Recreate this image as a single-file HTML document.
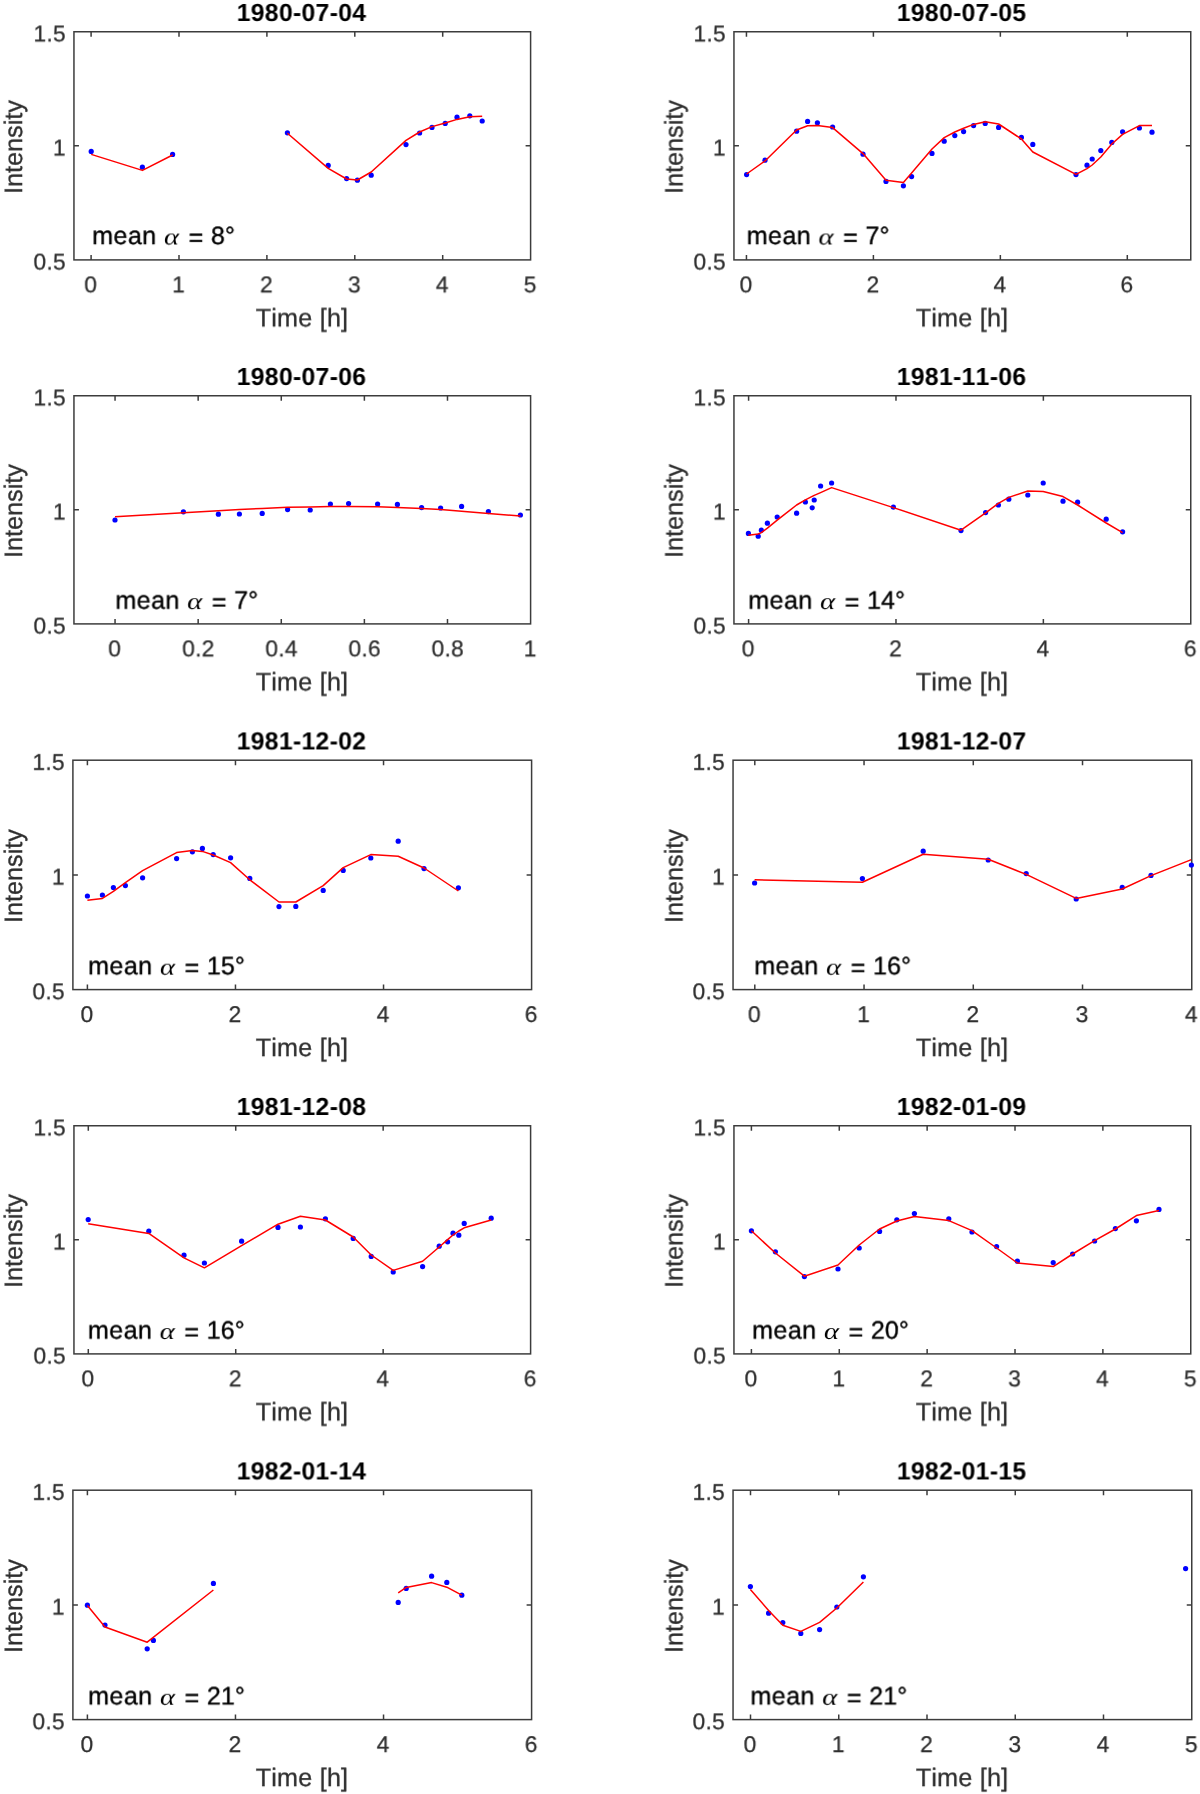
<!DOCTYPE html>
<html lang="en">
<head>
<meta charset="utf-8">
<title>Lightcurves</title>
<style>
html,body{margin:0;padding:0;background:#fff}
body{width:1200px;height:1794px;overflow:hidden}
svg{display:block;font-family:'Liberation Sans', 'DejaVu Sans', sans-serif;font-kerning:none}
text{white-space:pre}
svg text{will-change:opacity;text-rendering:geometricPrecision}
</style>
</head>
<body>
<svg width="1200" height="1794" viewBox="0 0 1200 1794">
<rect width="1200" height="1794" fill="#fff"/>
<g id="p1">
<clipPath id="c1"><rect x="74.45" y="32.25" width="455.65" height="227.15"/></clipPath>
<g stroke="#3c3c3c" stroke-width="1.5" fill="none">
<rect x="73.95" y="31.75" width="456.65" height="228.15"/>
<path d="M91.1 259.9v-5M91.1 31.75v5M179 259.9v-5M179 31.75v5M266.9 259.9v-5M266.9 31.75v5M354.8 259.9v-5M354.8 31.75v5M442.7 259.9v-5M442.7 31.75v5M73.95 145.82h5M530.6 145.82h-5"/>
</g>
<g fill="#00f">
<circle cx="91.2" cy="151.4" r="2.6"/>
<circle cx="142.4" cy="167.2" r="2.6"/>
<circle cx="172.6" cy="154.4" r="2.6"/>
<circle cx="287.4" cy="132.8" r="2.6"/>
<circle cx="328.2" cy="165.4" r="2.6"/>
<circle cx="346.6" cy="178.6" r="2.6"/>
<circle cx="357.4" cy="180.2" r="2.6"/>
<circle cx="371.2" cy="175.2" r="2.6"/>
<circle cx="406" cy="144.6" r="2.6"/>
<circle cx="419.6" cy="133" r="2.6"/>
<circle cx="432" cy="127.4" r="2.6"/>
<circle cx="445.2" cy="123.4" r="2.6"/>
<circle cx="457" cy="117.2" r="2.6"/>
<circle cx="469.8" cy="115.8" r="2.6"/>
<circle cx="482.2" cy="121" r="2.6"/>
</g>
<polyline clip-path="url(#c1)" points="91.2,154.4 142.4,170.4 172.6,155" fill="none" stroke="#f00" stroke-width="1.5" stroke-linejoin="round"/>
<polyline clip-path="url(#c1)" points="287.4,133.2 328.2,168.4 346.6,179 357.4,180 371.2,172 406,140.4 419.6,132 432,126.6 445.2,123 457,119.4 469.8,116.8 482.2,116.2" fill="none" stroke="#f00" stroke-width="1.5" stroke-linejoin="round"/>
<g font-size="22.8" fill="#2e2e2e" stroke="#2e2e2e" stroke-width="0.25" letter-spacing="0.25">
<text transform="translate(90.75 292.35) rotate(0.01)" text-anchor="middle">0</text>
<text transform="translate(178.65 292.35) rotate(0.01)" text-anchor="middle">1</text>
<text transform="translate(266.55 292.35) rotate(0.01)" text-anchor="middle">2</text>
<text transform="translate(354.45 292.35) rotate(0.01)" text-anchor="middle">3</text>
<text transform="translate(442.35 292.35) rotate(0.01)" text-anchor="middle">4</text>
<text transform="translate(530.25 292.35) rotate(0.01)" text-anchor="middle">5</text>
<text transform="translate(65.95 41.4) rotate(0.01)" text-anchor="end">1.5</text>
<text transform="translate(65.95 155.47) rotate(0.01)" text-anchor="end">1</text>
<text transform="translate(65.95 269.55) rotate(0.01)" text-anchor="end">0.5</text>
</g>
<g font-size="25.2" fill="#2e2e2e" stroke="#2e2e2e" stroke-width="0.3" text-anchor="middle">
<text transform="translate(301.98 326.4) rotate(0.01)" letter-spacing="0.2">Time [h]</text>
<text transform="translate(22.05 146.92) rotate(-89.99)" font-size="25.2">Intensity</text>
</g>
<text transform="translate(301.48 21) rotate(0.01)" font-size="24.8" font-weight="bold" text-anchor="middle" letter-spacing="0.27" fill="#000">1980-07-04</text>
<text transform="translate(92.2 244.1) rotate(0.01)" font-size="25.1" fill="#000" stroke="#000" stroke-width="0.35"><tspan x="0" letter-spacing="0.4">mean</tspan><tspan x="96.4" dy="1.9">=</tspan><tspan x="118.8" dy="-1.9">8°</tspan></text>
<text transform="translate(164 244.5) rotate(0.01) scale(1.22 1)" font-family="'Liberation Serif', 'DejaVu Serif', serif" font-style="italic" font-size="23.5" fill="#000">α</text>
</g>
<g id="p2">
<clipPath id="c2"><rect x="734.45" y="32.25" width="455.8" height="227.15"/></clipPath>
<g stroke="#3c3c3c" stroke-width="1.5" fill="none">
<rect x="733.95" y="31.75" width="456.8" height="228.15"/>
<path d="M746.45 259.9v-5M746.45 31.75v5M873.4 259.9v-5M873.4 31.75v5M1000.35 259.9v-5M1000.35 31.75v5M1127.3 259.9v-5M1127.3 31.75v5M733.95 145.82h5M1190.75 145.82h-5"/>
</g>
<g fill="#00f">
<circle cx="746.6" cy="174.6" r="2.6"/>
<circle cx="765" cy="160.2" r="2.6"/>
<circle cx="796.6" cy="131.2" r="2.6"/>
<circle cx="807.6" cy="121.4" r="2.6"/>
<circle cx="817.4" cy="122.8" r="2.6"/>
<circle cx="832.6" cy="127" r="2.6"/>
<circle cx="863" cy="154.2" r="2.6"/>
<circle cx="886" cy="181.4" r="2.6"/>
<circle cx="903.4" cy="185.8" r="2.6"/>
<circle cx="911.6" cy="176.6" r="2.6"/>
<circle cx="932" cy="153.4" r="2.6"/>
<circle cx="944.2" cy="141.2" r="2.6"/>
<circle cx="954.8" cy="135.6" r="2.6"/>
<circle cx="963.6" cy="131.6" r="2.6"/>
<circle cx="973.6" cy="125.6" r="2.6"/>
<circle cx="985.2" cy="123.4" r="2.6"/>
<circle cx="998.6" cy="127.4" r="2.6"/>
<circle cx="1021.4" cy="137.4" r="2.6"/>
<circle cx="1032.8" cy="144.4" r="2.6"/>
<circle cx="1076" cy="174.6" r="2.6"/>
<circle cx="1087" cy="165.2" r="2.6"/>
<circle cx="1092.2" cy="159" r="2.6"/>
<circle cx="1100.8" cy="150.6" r="2.6"/>
<circle cx="1111.8" cy="142.4" r="2.6"/>
<circle cx="1122.6" cy="131.8" r="2.6"/>
<circle cx="1139.4" cy="128" r="2.6"/>
<circle cx="1152" cy="132.2" r="2.6"/>
</g>
<polyline clip-path="url(#c2)" points="746.6,174 765,161 796.6,130 807.6,125.8 817.4,125.4 832.6,127.6 863,153.6 886,180.2 903.4,182.6 911.6,173 932,149 944.2,137.6 954.8,132 963.6,128.2 973.6,124.4 985.2,121.8 998.6,124 1021.4,139 1032.8,152 1076,174.4 1087,168.6 1092.2,165 1100.8,157 1111.8,144 1122.6,134.4 1139.4,125.6 1152,125.6" fill="none" stroke="#f00" stroke-width="1.5" stroke-linejoin="round"/>
<g font-size="22.8" fill="#2e2e2e" stroke="#2e2e2e" stroke-width="0.25" letter-spacing="0.25">
<text transform="translate(746.1 292.35) rotate(0.01)" text-anchor="middle">0</text>
<text transform="translate(873.05 292.35) rotate(0.01)" text-anchor="middle">2</text>
<text transform="translate(1000 292.35) rotate(0.01)" text-anchor="middle">4</text>
<text transform="translate(1126.95 292.35) rotate(0.01)" text-anchor="middle">6</text>
<text transform="translate(725.95 41.4) rotate(0.01)" text-anchor="end">1.5</text>
<text transform="translate(725.95 155.47) rotate(0.01)" text-anchor="end">1</text>
<text transform="translate(725.95 269.55) rotate(0.01)" text-anchor="end">0.5</text>
</g>
<g font-size="25.2" fill="#2e2e2e" stroke="#2e2e2e" stroke-width="0.3" text-anchor="middle">
<text transform="translate(962.05 326.4) rotate(0.01)" letter-spacing="0.2">Time [h]</text>
<text transform="translate(682.55 146.92) rotate(-89.99)" font-size="25.2">Intensity</text>
</g>
<text transform="translate(961.55 21) rotate(0.01)" font-size="24.8" font-weight="bold" text-anchor="middle" letter-spacing="0.27" fill="#000">1980-07-05</text>
<text transform="translate(746.7 244.1) rotate(0.01)" font-size="25.1" fill="#000" stroke="#000" stroke-width="0.35"><tspan x="0" letter-spacing="0.4">mean</tspan><tspan x="96.4" dy="1.9">=</tspan><tspan x="118.8" dy="-1.9">7°</tspan></text>
<text transform="translate(818.5 244.5) rotate(0.01) scale(1.22 1)" font-family="'Liberation Serif', 'DejaVu Serif', serif" font-style="italic" font-size="23.5" fill="#000">α</text>
</g>
<g id="p3">
<clipPath id="c3"><rect x="74.45" y="396.25" width="455.65" height="227.15"/></clipPath>
<g stroke="#3c3c3c" stroke-width="1.5" fill="none">
<rect x="73.95" y="395.75" width="456.65" height="228.15"/>
<path d="M115.05 623.9v-5M115.05 395.75v5M198.16 623.9v-5M198.16 395.75v5M281.27 623.9v-5M281.27 395.75v5M364.38 623.9v-5M364.38 395.75v5M447.49 623.9v-5M447.49 395.75v5M73.95 509.82h5M530.6 509.82h-5"/>
</g>
<g fill="#00f">
<circle cx="115" cy="520" r="2.6"/>
<circle cx="183.4" cy="511.8" r="2.6"/>
<circle cx="218.4" cy="514.2" r="2.6"/>
<circle cx="239.4" cy="514" r="2.6"/>
<circle cx="262.2" cy="513.4" r="2.6"/>
<circle cx="287.6" cy="509.6" r="2.6"/>
<circle cx="310.2" cy="510" r="2.6"/>
<circle cx="330.4" cy="504" r="2.6"/>
<circle cx="348.6" cy="503.6" r="2.6"/>
<circle cx="377.6" cy="504" r="2.6"/>
<circle cx="397.4" cy="504.4" r="2.6"/>
<circle cx="421.6" cy="507.6" r="2.6"/>
<circle cx="440.6" cy="508" r="2.6"/>
<circle cx="461.6" cy="506.4" r="2.6"/>
<circle cx="488.4" cy="511.6" r="2.6"/>
<circle cx="520.4" cy="515" r="2.6"/>
</g>
<polyline clip-path="url(#c3)" points="115,516.8 183.4,512.8 218.4,510.8 239.4,509.6 262.2,508.4 287.6,507.2 310.2,507 330.4,506.4 348.6,506.4 377.6,506.8 397.4,507.4 421.6,508.6 440.6,509.6 461.6,511.2 488.4,513.6 520.4,516" fill="none" stroke="#f00" stroke-width="1.5" stroke-linejoin="round"/>
<g font-size="22.8" fill="#2e2e2e" stroke="#2e2e2e" stroke-width="0.25" letter-spacing="0.25">
<text transform="translate(114.7 656.35) rotate(0.01)" text-anchor="middle">0</text>
<text transform="translate(198.46 656.35) rotate(0.01)" text-anchor="middle">0.2</text>
<text transform="translate(281.57 656.35) rotate(0.01)" text-anchor="middle">0.4</text>
<text transform="translate(364.68 656.35) rotate(0.01)" text-anchor="middle">0.6</text>
<text transform="translate(447.79 656.35) rotate(0.01)" text-anchor="middle">0.8</text>
<text transform="translate(530.25 656.35) rotate(0.01)" text-anchor="middle">1</text>
<text transform="translate(65.95 405.4) rotate(0.01)" text-anchor="end">1.5</text>
<text transform="translate(65.95 519.48) rotate(0.01)" text-anchor="end">1</text>
<text transform="translate(65.95 633.55) rotate(0.01)" text-anchor="end">0.5</text>
</g>
<g font-size="25.2" fill="#2e2e2e" stroke="#2e2e2e" stroke-width="0.3" text-anchor="middle">
<text transform="translate(301.98 690.4) rotate(0.01)" letter-spacing="0.2">Time [h]</text>
<text transform="translate(22.05 510.93) rotate(-89.99)" font-size="25.2">Intensity</text>
</g>
<text transform="translate(301.48 385) rotate(0.01)" font-size="24.8" font-weight="bold" text-anchor="middle" letter-spacing="0.27" fill="#000">1980-07-06</text>
<text transform="translate(115.4 608.7) rotate(0.01)" font-size="25.1" fill="#000" stroke="#000" stroke-width="0.35"><tspan x="0" letter-spacing="0.4">mean</tspan><tspan x="96.4" dy="1.9">=</tspan><tspan x="118.8" dy="-1.9">7°</tspan></text>
<text transform="translate(187.2 609.1) rotate(0.01) scale(1.22 1)" font-family="'Liberation Serif', 'DejaVu Serif', serif" font-style="italic" font-size="23.5" fill="#000">α</text>
</g>
<g id="p4">
<clipPath id="c4"><rect x="734.45" y="396.25" width="455.8" height="227.15"/></clipPath>
<g stroke="#3c3c3c" stroke-width="1.5" fill="none">
<rect x="733.95" y="395.75" width="456.8" height="228.15"/>
<path d="M748.6 623.9v-5M748.6 395.75v5M895.98 623.9v-5M895.98 395.75v5M1043.36 623.9v-5M1043.36 395.75v5M733.95 509.82h5M1190.75 509.82h-5"/>
</g>
<g fill="#00f">
<circle cx="748.4" cy="533.4" r="2.6"/>
<circle cx="758.2" cy="536.2" r="2.6"/>
<circle cx="761.4" cy="530.2" r="2.6"/>
<circle cx="767.4" cy="523.2" r="2.6"/>
<circle cx="777.2" cy="517" r="2.6"/>
<circle cx="796.6" cy="513.2" r="2.6"/>
<circle cx="805.4" cy="502" r="2.6"/>
<circle cx="812.2" cy="507.8" r="2.6"/>
<circle cx="814.2" cy="500" r="2.6"/>
<circle cx="820.6" cy="486" r="2.6"/>
<circle cx="831.6" cy="483" r="2.6"/>
<circle cx="893.4" cy="507.2" r="2.6"/>
<circle cx="961" cy="530.6" r="2.6"/>
<circle cx="985.6" cy="512.6" r="2.6"/>
<circle cx="998.4" cy="505" r="2.6"/>
<circle cx="1008.8" cy="499.2" r="2.6"/>
<circle cx="1027.8" cy="495" r="2.6"/>
<circle cx="1043.2" cy="483" r="2.6"/>
<circle cx="1063" cy="501.2" r="2.6"/>
<circle cx="1077.6" cy="502.2" r="2.6"/>
<circle cx="1106.2" cy="519.2" r="2.6"/>
<circle cx="1122.6" cy="531.8" r="2.6"/>
</g>
<polyline clip-path="url(#c4)" points="748.4,535.2 758.2,534 761.4,532.6 767.4,528.2 777.2,520.2 796.6,505 805.4,499.8 812.2,496.4 814.2,495.4 820.6,492.6 831.6,487.6 893.4,507.6 961,530.2 985.6,512.8 998.4,503.4 1008.8,497.4 1027.8,491 1043.2,491.4 1063,496.6 1077.6,505 1106.2,523 1122.6,532.6" fill="none" stroke="#f00" stroke-width="1.5" stroke-linejoin="round"/>
<g font-size="22.8" fill="#2e2e2e" stroke="#2e2e2e" stroke-width="0.25" letter-spacing="0.25">
<text transform="translate(748.25 656.35) rotate(0.01)" text-anchor="middle">0</text>
<text transform="translate(895.63 656.35) rotate(0.01)" text-anchor="middle">2</text>
<text transform="translate(1043.01 656.35) rotate(0.01)" text-anchor="middle">4</text>
<text transform="translate(1190.39 656.35) rotate(0.01)" text-anchor="middle">6</text>
<text transform="translate(725.95 405.4) rotate(0.01)" text-anchor="end">1.5</text>
<text transform="translate(725.95 519.48) rotate(0.01)" text-anchor="end">1</text>
<text transform="translate(725.95 633.55) rotate(0.01)" text-anchor="end">0.5</text>
</g>
<g font-size="25.2" fill="#2e2e2e" stroke="#2e2e2e" stroke-width="0.3" text-anchor="middle">
<text transform="translate(962.05 690.4) rotate(0.01)" letter-spacing="0.2">Time [h]</text>
<text transform="translate(682.55 510.93) rotate(-89.99)" font-size="25.2">Intensity</text>
</g>
<text transform="translate(961.55 385) rotate(0.01)" font-size="24.8" font-weight="bold" text-anchor="middle" letter-spacing="0.27" fill="#000">1981-11-06</text>
<text transform="translate(748.3 608.7) rotate(0.01)" font-size="25.1" fill="#000" stroke="#000" stroke-width="0.35"><tspan x="0" letter-spacing="0.4">mean</tspan><tspan x="96.4" dy="1.9">=</tspan><tspan x="118.8" dy="-1.9">14°</tspan></text>
<text transform="translate(820.1 609.1) rotate(0.01) scale(1.22 1)" font-family="'Liberation Serif', 'DejaVu Serif', serif" font-style="italic" font-size="23.5" fill="#000">α</text>
</g>
<g id="p5">
<clipPath id="c5"><rect x="73.4" y="760.7" width="457.7" height="228.4"/></clipPath>
<g stroke="#3c3c3c" stroke-width="1.5" fill="none">
<rect x="72.9" y="760.2" width="458.7" height="229.4"/>
<path d="M87.4 989.6v-5M87.4 760.2v5M235.47 989.6v-5M235.47 760.2v5M383.54 989.6v-5M383.54 760.2v5M72.9 874.9h5M531.6 874.9h-5"/>
</g>
<g fill="#00f">
<circle cx="87.4" cy="896" r="2.6"/>
<circle cx="102.4" cy="895" r="2.6"/>
<circle cx="113.4" cy="887.6" r="2.6"/>
<circle cx="125.4" cy="885.6" r="2.6"/>
<circle cx="142.6" cy="877.8" r="2.6"/>
<circle cx="176.6" cy="858.6" r="2.6"/>
<circle cx="192.4" cy="851.8" r="2.6"/>
<circle cx="202.4" cy="848.4" r="2.6"/>
<circle cx="213.2" cy="854.6" r="2.6"/>
<circle cx="230.6" cy="857.8" r="2.6"/>
<circle cx="249.8" cy="878.4" r="2.6"/>
<circle cx="279" cy="906.6" r="2.6"/>
<circle cx="295.8" cy="906.4" r="2.6"/>
<circle cx="323.2" cy="890.4" r="2.6"/>
<circle cx="343.2" cy="870.4" r="2.6"/>
<circle cx="370.8" cy="858" r="2.6"/>
<circle cx="398.2" cy="841.2" r="2.6"/>
<circle cx="424" cy="868.6" r="2.6"/>
<circle cx="458.4" cy="887.8" r="2.6"/>
</g>
<polyline clip-path="url(#c5)" points="87.4,900.2 102.4,898.4 113.4,891.4 125.4,882.6 142.6,870.6 176.6,852.6 192.4,850.4 202.4,851.4 213.2,855 230.6,862.6 249.8,879.8 279,902 295.8,902 323.2,885.6 343.2,867.6 370.8,854.6 398.2,856.2 424,868 458.4,891" fill="none" stroke="#f00" stroke-width="1.5" stroke-linejoin="round"/>
<g font-size="22.8" fill="#2e2e2e" stroke="#2e2e2e" stroke-width="0.25" letter-spacing="0.25">
<text transform="translate(87.05 1022.05) rotate(0.01)" text-anchor="middle">0</text>
<text transform="translate(235.12 1022.05) rotate(0.01)" text-anchor="middle">2</text>
<text transform="translate(383.19 1022.05) rotate(0.01)" text-anchor="middle">4</text>
<text transform="translate(531.26 1022.05) rotate(0.01)" text-anchor="middle">6</text>
<text transform="translate(64.9 769.85) rotate(0.01)" text-anchor="end">1.5</text>
<text transform="translate(64.9 884.55) rotate(0.01)" text-anchor="end">1</text>
<text transform="translate(64.9 999.25) rotate(0.01)" text-anchor="end">0.5</text>
</g>
<g font-size="25.2" fill="#2e2e2e" stroke="#2e2e2e" stroke-width="0.3" text-anchor="middle">
<text transform="translate(301.95 1056.1) rotate(0.01)" letter-spacing="0.2">Time [h]</text>
<text transform="translate(22.05 876) rotate(-89.99)" font-size="25.2">Intensity</text>
</g>
<text transform="translate(301.45 749.45) rotate(0.01)" font-size="24.8" font-weight="bold" text-anchor="middle" letter-spacing="0.27" fill="#000">1981-12-02</text>
<text transform="translate(88.15 974.3) rotate(0.01)" font-size="25.1" fill="#000" stroke="#000" stroke-width="0.35"><tspan x="0" letter-spacing="0.4">mean</tspan><tspan x="96.4" dy="1.9">=</tspan><tspan x="118.8" dy="-1.9">15°</tspan></text>
<text transform="translate(159.95 974.7) rotate(0.01) scale(1.22 1)" font-family="'Liberation Serif', 'DejaVu Serif', serif" font-style="italic" font-size="23.5" fill="#000">α</text>
</g>
<g id="p6">
<clipPath id="c6"><rect x="733.55" y="760.7" width="457.7" height="228.4"/></clipPath>
<g stroke="#3c3c3c" stroke-width="1.5" fill="none">
<rect x="733.05" y="760.2" width="458.7" height="229.4"/>
<path d="M754.8 989.6v-5M754.8 760.2v5M864.04 989.6v-5M864.04 760.2v5M973.28 989.6v-5M973.28 760.2v5M1082.52 989.6v-5M1082.52 760.2v5M733.05 874.9h5M1191.75 874.9h-5"/>
</g>
<g fill="#00f">
<circle cx="754.6" cy="883" r="2.6"/>
<circle cx="862.4" cy="878.6" r="2.6"/>
<circle cx="923.2" cy="851.2" r="2.6"/>
<circle cx="988.2" cy="860" r="2.6"/>
<circle cx="1026.2" cy="873.6" r="2.6"/>
<circle cx="1076.2" cy="899" r="2.6"/>
<circle cx="1122.2" cy="887.4" r="2.6"/>
<circle cx="1151" cy="875.4" r="2.6"/>
<circle cx="1191.4" cy="865" r="2.6"/>
</g>
<polyline clip-path="url(#c6)" points="754.6,879.8 862.4,882.2 923.2,854.2 988.2,859.2 1026.2,874.4 1076.2,898.4 1122.2,889 1151,875.6 1191.4,859.6" fill="none" stroke="#f00" stroke-width="1.5" stroke-linejoin="round"/>
<g font-size="22.8" fill="#2e2e2e" stroke="#2e2e2e" stroke-width="0.25" letter-spacing="0.25">
<text transform="translate(754.45 1022.05) rotate(0.01)" text-anchor="middle">0</text>
<text transform="translate(863.69 1022.05) rotate(0.01)" text-anchor="middle">1</text>
<text transform="translate(972.93 1022.05) rotate(0.01)" text-anchor="middle">2</text>
<text transform="translate(1082.17 1022.05) rotate(0.01)" text-anchor="middle">3</text>
<text transform="translate(1191.41 1022.05) rotate(0.01)" text-anchor="middle">4</text>
<text transform="translate(725.05 769.85) rotate(0.01)" text-anchor="end">1.5</text>
<text transform="translate(725.05 884.55) rotate(0.01)" text-anchor="end">1</text>
<text transform="translate(725.05 999.25) rotate(0.01)" text-anchor="end">0.5</text>
</g>
<g font-size="25.2" fill="#2e2e2e" stroke="#2e2e2e" stroke-width="0.3" text-anchor="middle">
<text transform="translate(962.1 1056.1) rotate(0.01)" letter-spacing="0.2">Time [h]</text>
<text transform="translate(682.55 876) rotate(-89.99)" font-size="25.2">Intensity</text>
</g>
<text transform="translate(961.6 749.45) rotate(0.01)" font-size="24.8" font-weight="bold" text-anchor="middle" letter-spacing="0.27" fill="#000">1981-12-07</text>
<text transform="translate(754.3 974.3) rotate(0.01)" font-size="25.1" fill="#000" stroke="#000" stroke-width="0.35"><tspan x="0" letter-spacing="0.4">mean</tspan><tspan x="96.4" dy="1.9">=</tspan><tspan x="118.8" dy="-1.9">16°</tspan></text>
<text transform="translate(826.1 974.7) rotate(0.01) scale(1.22 1)" font-family="'Liberation Serif', 'DejaVu Serif', serif" font-style="italic" font-size="23.5" fill="#000">α</text>
</g>
<g id="p7">
<clipPath id="c7"><rect x="74.45" y="1126.25" width="455.65" height="227.15"/></clipPath>
<g stroke="#3c3c3c" stroke-width="1.5" fill="none">
<rect x="73.95" y="1125.75" width="456.65" height="228.15"/>
<path d="M88.3 1353.9v-5M88.3 1125.75v5M235.73 1353.9v-5M235.73 1125.75v5M383.16 1353.9v-5M383.16 1125.75v5M73.95 1239.83h5M530.6 1239.83h-5"/>
</g>
<g fill="#00f">
<circle cx="88.2" cy="1219.6" r="2.6"/>
<circle cx="148.8" cy="1231.2" r="2.6"/>
<circle cx="184" cy="1255.2" r="2.6"/>
<circle cx="204.4" cy="1263" r="2.6"/>
<circle cx="241.6" cy="1241.2" r="2.6"/>
<circle cx="278" cy="1227.4" r="2.6"/>
<circle cx="300.4" cy="1227" r="2.6"/>
<circle cx="325.4" cy="1218.8" r="2.6"/>
<circle cx="353.2" cy="1238.4" r="2.6"/>
<circle cx="371.2" cy="1256.4" r="2.6"/>
<circle cx="393.2" cy="1272" r="2.6"/>
<circle cx="422.6" cy="1266.6" r="2.6"/>
<circle cx="439.2" cy="1246.2" r="2.6"/>
<circle cx="447.6" cy="1241.8" r="2.6"/>
<circle cx="453" cy="1233.2" r="2.6"/>
<circle cx="458.8" cy="1235.2" r="2.6"/>
<circle cx="464.2" cy="1223.4" r="2.6"/>
<circle cx="491.2" cy="1218.2" r="2.6"/>
</g>
<polyline clip-path="url(#c7)" points="88.2,1223.8 148.8,1233.4 184,1257.8 204.4,1267.8 241.6,1245.6 278,1224.2 300.4,1216.2 325.4,1220 353.2,1237 371.2,1255 393.2,1270.4 422.6,1261.2 439.2,1247 447.6,1239.6 453,1235 458.8,1231 464.2,1227.8 491.2,1220" fill="none" stroke="#f00" stroke-width="1.5" stroke-linejoin="round"/>
<g font-size="22.8" fill="#2e2e2e" stroke="#2e2e2e" stroke-width="0.25" letter-spacing="0.25">
<text transform="translate(87.95 1386.35) rotate(0.01)" text-anchor="middle">0</text>
<text transform="translate(235.38 1386.35) rotate(0.01)" text-anchor="middle">2</text>
<text transform="translate(382.81 1386.35) rotate(0.01)" text-anchor="middle">4</text>
<text transform="translate(530.24 1386.35) rotate(0.01)" text-anchor="middle">6</text>
<text transform="translate(65.95 1135.4) rotate(0.01)" text-anchor="end">1.5</text>
<text transform="translate(65.95 1249.48) rotate(0.01)" text-anchor="end">1</text>
<text transform="translate(65.95 1363.55) rotate(0.01)" text-anchor="end">0.5</text>
</g>
<g font-size="25.2" fill="#2e2e2e" stroke="#2e2e2e" stroke-width="0.3" text-anchor="middle">
<text transform="translate(301.98 1420.4) rotate(0.01)" letter-spacing="0.2">Time [h]</text>
<text transform="translate(22.05 1240.92) rotate(-89.99)" font-size="25.2">Intensity</text>
</g>
<text transform="translate(301.48 1115) rotate(0.01)" font-size="24.8" font-weight="bold" text-anchor="middle" letter-spacing="0.27" fill="#000">1981-12-08</text>
<text transform="translate(87.9 1338.6) rotate(0.01)" font-size="25.1" fill="#000" stroke="#000" stroke-width="0.35"><tspan x="0" letter-spacing="0.4">mean</tspan><tspan x="96.4" dy="1.9">=</tspan><tspan x="118.8" dy="-1.9">16°</tspan></text>
<text transform="translate(159.7 1339) rotate(0.01) scale(1.22 1)" font-family="'Liberation Serif', 'DejaVu Serif', serif" font-style="italic" font-size="23.5" fill="#000">α</text>
</g>
<g id="p8">
<clipPath id="c8"><rect x="734.45" y="1126.25" width="455.8" height="227.15"/></clipPath>
<g stroke="#3c3c3c" stroke-width="1.5" fill="none">
<rect x="733.95" y="1125.75" width="456.8" height="228.15"/>
<path d="M751.4 1353.9v-5M751.4 1125.75v5M839.27 1353.9v-5M839.27 1125.75v5M927.14 1353.9v-5M927.14 1125.75v5M1015.01 1353.9v-5M1015.01 1125.75v5M1102.88 1353.9v-5M1102.88 1125.75v5M733.95 1239.83h5M1190.75 1239.83h-5"/>
</g>
<g fill="#00f">
<circle cx="751.4" cy="1230.8" r="2.6"/>
<circle cx="775.4" cy="1251.8" r="2.6"/>
<circle cx="804.4" cy="1276.6" r="2.6"/>
<circle cx="838" cy="1269" r="2.6"/>
<circle cx="859.2" cy="1248" r="2.6"/>
<circle cx="879.6" cy="1231.4" r="2.6"/>
<circle cx="896.8" cy="1219.8" r="2.6"/>
<circle cx="914.4" cy="1213.6" r="2.6"/>
<circle cx="948.8" cy="1218.8" r="2.6"/>
<circle cx="972" cy="1232" r="2.6"/>
<circle cx="996.6" cy="1246.6" r="2.6"/>
<circle cx="1017.4" cy="1261.2" r="2.6"/>
<circle cx="1053.2" cy="1262.6" r="2.6"/>
<circle cx="1072.6" cy="1254" r="2.6"/>
<circle cx="1094.6" cy="1241" r="2.6"/>
<circle cx="1115.4" cy="1228.6" r="2.6"/>
<circle cx="1136.4" cy="1220.8" r="2.6"/>
<circle cx="1159" cy="1209.4" r="2.6"/>
</g>
<polyline clip-path="url(#c8)" points="751.4,1230.8 775.4,1253 804.4,1276.2 838,1265 859.2,1245 879.6,1229 896.8,1221 914.4,1216.4 948.8,1220.6 972,1230.6 996.6,1248 1017.4,1263 1053.2,1266.6 1072.6,1254 1094.6,1240.6 1115.4,1229 1136.4,1215.6 1159,1210.6" fill="none" stroke="#f00" stroke-width="1.5" stroke-linejoin="round"/>
<g font-size="22.8" fill="#2e2e2e" stroke="#2e2e2e" stroke-width="0.25" letter-spacing="0.25">
<text transform="translate(751.05 1386.35) rotate(0.01)" text-anchor="middle">0</text>
<text transform="translate(838.92 1386.35) rotate(0.01)" text-anchor="middle">1</text>
<text transform="translate(926.79 1386.35) rotate(0.01)" text-anchor="middle">2</text>
<text transform="translate(1014.66 1386.35) rotate(0.01)" text-anchor="middle">3</text>
<text transform="translate(1102.53 1386.35) rotate(0.01)" text-anchor="middle">4</text>
<text transform="translate(1190.4 1386.35) rotate(0.01)" text-anchor="middle">5</text>
<text transform="translate(725.95 1135.4) rotate(0.01)" text-anchor="end">1.5</text>
<text transform="translate(725.95 1249.48) rotate(0.01)" text-anchor="end">1</text>
<text transform="translate(725.95 1363.55) rotate(0.01)" text-anchor="end">0.5</text>
</g>
<g font-size="25.2" fill="#2e2e2e" stroke="#2e2e2e" stroke-width="0.3" text-anchor="middle">
<text transform="translate(962.05 1420.4) rotate(0.01)" letter-spacing="0.2">Time [h]</text>
<text transform="translate(682.55 1240.92) rotate(-89.99)" font-size="25.2">Intensity</text>
</g>
<text transform="translate(961.55 1115) rotate(0.01)" font-size="24.8" font-weight="bold" text-anchor="middle" letter-spacing="0.27" fill="#000">1982-01-09</text>
<text transform="translate(752.15 1338.6) rotate(0.01)" font-size="25.1" fill="#000" stroke="#000" stroke-width="0.35"><tspan x="0" letter-spacing="0.4">mean</tspan><tspan x="96.4" dy="1.9">=</tspan><tspan x="118.8" dy="-1.9">20°</tspan></text>
<text transform="translate(823.95 1339) rotate(0.01) scale(1.22 1)" font-family="'Liberation Serif', 'DejaVu Serif', serif" font-style="italic" font-size="23.5" fill="#000">α</text>
</g>
<g id="p9">
<clipPath id="c9"><rect x="73.4" y="1490.7" width="457.7" height="228.4"/></clipPath>
<g stroke="#3c3c3c" stroke-width="1.5" fill="none">
<rect x="72.9" y="1490.2" width="458.7" height="229.4"/>
<path d="M87.4 1719.6v-5M87.4 1490.2v5M235.47 1719.6v-5M235.47 1490.2v5M383.54 1719.6v-5M383.54 1490.2v5M72.9 1604.9h5M531.6 1604.9h-5"/>
</g>
<g fill="#00f">
<circle cx="87.4" cy="1605.2" r="2.6"/>
<circle cx="105" cy="1625" r="2.6"/>
<circle cx="147.2" cy="1648.8" r="2.6"/>
<circle cx="153.4" cy="1640.4" r="2.6"/>
<circle cx="213.4" cy="1583.4" r="2.6"/>
<circle cx="398.2" cy="1602.4" r="2.6"/>
<circle cx="406.2" cy="1588.4" r="2.6"/>
<circle cx="431.6" cy="1576.2" r="2.6"/>
<circle cx="446.8" cy="1582.4" r="2.6"/>
<circle cx="461.8" cy="1595.2" r="2.6"/>
</g>
<polyline clip-path="url(#c9)" points="87.4,1605.6 105,1627 147.2,1642.2 213.4,1590" fill="none" stroke="#f00" stroke-width="1.5" stroke-linejoin="round"/>
<polyline clip-path="url(#c9)" points="398.2,1592.8 406.2,1587.4 431.6,1582.6 446.8,1587.2 461.8,1595.2" fill="none" stroke="#f00" stroke-width="1.5" stroke-linejoin="round"/>
<g font-size="22.8" fill="#2e2e2e" stroke="#2e2e2e" stroke-width="0.25" letter-spacing="0.25">
<text transform="translate(87.05 1752.05) rotate(0.01)" text-anchor="middle">0</text>
<text transform="translate(235.12 1752.05) rotate(0.01)" text-anchor="middle">2</text>
<text transform="translate(383.19 1752.05) rotate(0.01)" text-anchor="middle">4</text>
<text transform="translate(531.26 1752.05) rotate(0.01)" text-anchor="middle">6</text>
<text transform="translate(64.9 1499.85) rotate(0.01)" text-anchor="end">1.5</text>
<text transform="translate(64.9 1614.55) rotate(0.01)" text-anchor="end">1</text>
<text transform="translate(64.9 1729.25) rotate(0.01)" text-anchor="end">0.5</text>
</g>
<g font-size="25.2" fill="#2e2e2e" stroke="#2e2e2e" stroke-width="0.3" text-anchor="middle">
<text transform="translate(301.95 1786.1) rotate(0.01)" letter-spacing="0.2">Time [h]</text>
<text transform="translate(22.05 1606) rotate(-89.99)" font-size="25.2">Intensity</text>
</g>
<text transform="translate(301.45 1479.45) rotate(0.01)" font-size="24.8" font-weight="bold" text-anchor="middle" letter-spacing="0.27" fill="#000">1982-01-14</text>
<text transform="translate(88.15 1704.4) rotate(0.01)" font-size="25.1" fill="#000" stroke="#000" stroke-width="0.35"><tspan x="0" letter-spacing="0.4">mean</tspan><tspan x="96.4" dy="1.9">=</tspan><tspan x="118.8" dy="-1.9">21°</tspan></text>
<text transform="translate(159.95 1704.8) rotate(0.01) scale(1.22 1)" font-family="'Liberation Serif', 'DejaVu Serif', serif" font-style="italic" font-size="23.5" fill="#000">α</text>
</g>
<g id="p10">
<clipPath id="c10"><rect x="733.55" y="1490.7" width="457.7" height="228.4"/></clipPath>
<g stroke="#3c3c3c" stroke-width="1.5" fill="none">
<rect x="733.05" y="1490.2" width="458.7" height="229.4"/>
<path d="M750.5 1719.6v-5M750.5 1490.2v5M838.75 1719.6v-5M838.75 1490.2v5M927 1719.6v-5M927 1490.2v5M1015.25 1719.6v-5M1015.25 1490.2v5M1103.5 1719.6v-5M1103.5 1490.2v5M733.05 1604.9h5M1191.75 1604.9h-5"/>
</g>
<g fill="#00f">
<circle cx="750.4" cy="1586.6" r="2.6"/>
<circle cx="768.6" cy="1613.2" r="2.6"/>
<circle cx="782.8" cy="1622.6" r="2.6"/>
<circle cx="800.8" cy="1633.4" r="2.6"/>
<circle cx="819.6" cy="1629.6" r="2.6"/>
<circle cx="836.8" cy="1607" r="2.6"/>
<circle cx="863.4" cy="1576.8" r="2.6"/>
<circle cx="1185.6" cy="1568.6" r="2.6"/>
</g>
<polyline clip-path="url(#c10)" points="750.4,1589.4 768.6,1610.4 782.8,1625.2 800.8,1631.4 819.6,1622.4 836.8,1608 863.4,1582" fill="none" stroke="#f00" stroke-width="1.5" stroke-linejoin="round"/>
<g font-size="22.8" fill="#2e2e2e" stroke="#2e2e2e" stroke-width="0.25" letter-spacing="0.25">
<text transform="translate(750.15 1752.05) rotate(0.01)" text-anchor="middle">0</text>
<text transform="translate(838.4 1752.05) rotate(0.01)" text-anchor="middle">1</text>
<text transform="translate(926.65 1752.05) rotate(0.01)" text-anchor="middle">2</text>
<text transform="translate(1014.9 1752.05) rotate(0.01)" text-anchor="middle">3</text>
<text transform="translate(1103.15 1752.05) rotate(0.01)" text-anchor="middle">4</text>
<text transform="translate(1191.4 1752.05) rotate(0.01)" text-anchor="middle">5</text>
<text transform="translate(725.05 1499.85) rotate(0.01)" text-anchor="end">1.5</text>
<text transform="translate(725.05 1614.55) rotate(0.01)" text-anchor="end">1</text>
<text transform="translate(725.05 1729.25) rotate(0.01)" text-anchor="end">0.5</text>
</g>
<g font-size="25.2" fill="#2e2e2e" stroke="#2e2e2e" stroke-width="0.3" text-anchor="middle">
<text transform="translate(962.1 1786.1) rotate(0.01)" letter-spacing="0.2">Time [h]</text>
<text transform="translate(682.55 1606) rotate(-89.99)" font-size="25.2">Intensity</text>
</g>
<text transform="translate(961.6 1479.45) rotate(0.01)" font-size="24.8" font-weight="bold" text-anchor="middle" letter-spacing="0.27" fill="#000">1982-01-15</text>
<text transform="translate(750.45 1704.4) rotate(0.01)" font-size="25.1" fill="#000" stroke="#000" stroke-width="0.35"><tspan x="0" letter-spacing="0.4">mean</tspan><tspan x="96.4" dy="1.9">=</tspan><tspan x="118.8" dy="-1.9">21°</tspan></text>
<text transform="translate(822.25 1704.8) rotate(0.01) scale(1.22 1)" font-family="'Liberation Serif', 'DejaVu Serif', serif" font-style="italic" font-size="23.5" fill="#000">α</text>
</g>
</svg>
</body>
</html>
